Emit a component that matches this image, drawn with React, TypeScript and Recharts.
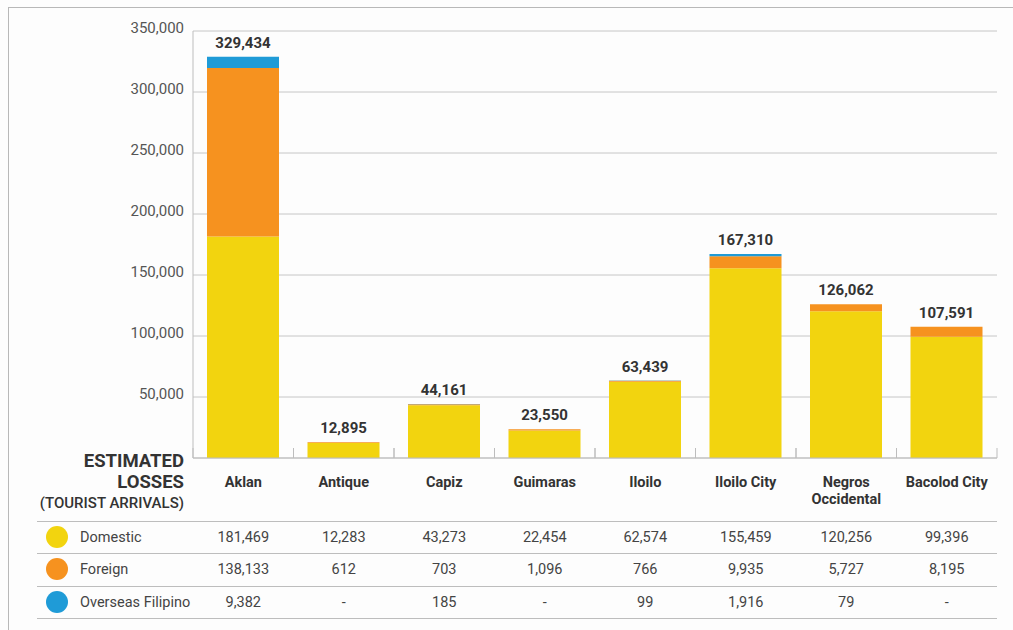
import { Bar, BarChart, CartesianGrid, LabelList, Text, XAxis, YAxis } from 'recharts'

const regions = ['Aklan', 'Antique', 'Capiz', 'Guimaras', 'Iloilo', 'Iloilo City', 'Negros Occidental', 'Bacolod City']
const domestic = [181469, 12283, 43273, 22454, 62574, 155459, 120256, 99396]
const foreign = [138133, 612, 703, 1096, 766, 9935, 5727, 8195]
// null = no overseas Filipino arrivals reported ("-")
const overseas: (number | null)[] = [9382, null, 185, null, 99, 1916, 79, null]
const totals = [329434, 12895, 44161, 23550, 63439, 167310, 126062, 107591]
const yTicks = [50000, 100000, 150000, 200000, 250000, 300000, 350000]

const series = [
  { key: 'domestic', name: 'Domestic', color: '#f2d40f', values: domestic },
  { key: 'foreign', name: 'Foreign', color: '#f6921f', values: foreign },
  { key: 'overseas', name: 'Overseas Filipino', color: '#1f9bd7', values: overseas },
]

const data = regions.map((region, i) => ({
  region,
  row: i,
  domestic: domestic[i],
  foreign: foreign[i],
  overseas: overseas[i] ?? 0,
}))

// index of the highest non-empty segment in each stack, which carries the total label
const topSeries = regions.map((_, i) => {
  let top = 0
  series.forEach((s, idx) => {
    if ((s.values[i] ?? 0) > 0) top = idx
  })
  return top
})

const W = 1013
const H = 630
const Y_AXIS_W = 193
const RIGHT = 16
const TOP = 31
const X_AXIS_H = 172
const BAND = (W - Y_AXIS_W - RIGHT) / regions.length
const ROW_Y = [79, 111, 144] // row centres below the x axis
const LINE_Y = [63, 95, 128, 160]

const FONT = 'Roboto, sans-serif'
const fmt = (v: number | null) => (v == null ? '-' : v.toLocaleString('en-US'))

const YTick = ({ x, y, payload }: any) => (
  <text x={x} y={y - 3.5} dy="0.35em" textAnchor="end" fontSize={15} fill="#555" fontFamily={FONT}>
    {fmt(payload.value)}
  </text>
)

const RegionTick = ({ x, y, payload, index }: any) => {
  const i = payload.index ?? index
  const half = BAND / 2
  return (
    <g>
      <line x1={x - half} x2={x - half} y1={y - 10} y2={y} stroke="#bdbdbd" />
      <line x1={x + half} x2={x + half} y1={y - 10} y2={y} stroke="#bdbdbd" />
      <Text
        x={x}
        y={y + 19}
        width={BAND - 6}
        textAnchor="middle"
        verticalAnchor="start"
        lineHeight={17}
        fontSize={14.5}
        fontWeight={700}
        fill="#333"
        fontFamily={FONT}
      >
        {payload.value}
      </Text>
      {series.map((s, r) => (
        <text
          key={s.key}
          x={x}
          y={y + ROW_Y[r]}
          dy="0.35em"
          textAnchor="middle"
          fontSize={14.5}
          fill="#444"
          fontFamily={FONT}
        >
          {fmt(s.values[i])}
        </text>
      ))}
    </g>
  )
}

// the label value is the row number, so the stack total can be looked up
const totalLabel = (seriesIdx: number) => (props: any) => {
  const { x, y, width, value } = props
  const row = Number(value)
  if (topSeries[row] !== seriesIdx) return null
  return (
    <text
      x={x + width / 2}
      y={y - 9}
      textAnchor="middle"
      fontSize={15}
      fontWeight={700}
      fill="#333"
      fontFamily={FONT}
    >
      {fmt(totals[row])}
    </text>
  )
}

export default function App() {
  const axisY = H - X_AXIS_H
  return (
    <div style={{ position: 'absolute', left: 0, top: 0, width: W, height: H, background: '#fdfdfd', fontFamily: FONT }}>
      <div
        style={{
          position: 'absolute',
          left: 8,
          top: 7,
          right: 0,
          bottom: 0,
          borderTop: '1.5px solid #b8b8b8',
          borderLeft: '1.5px solid #b8b8b8',
        }}
      />
      <BarChart width={W} height={H} data={data} margin={{ top: TOP, right: RIGHT, bottom: 0, left: 0 }}>
        <CartesianGrid vertical={false} stroke="#c6c6c6" />
        <XAxis
          dataKey="region"
          height={X_AXIS_H}
          axisLine={{ stroke: '#bdbdbd' }}
          tickLine={false}
          tickSize={0}
          tickMargin={0}
          interval={0}
          tick={<RegionTick />}
        />
        <YAxis
          width={Y_AXIS_W}
          domain={[0, 350000]}
          ticks={yTicks}
          axisLine={{ stroke: '#bdbdbd' }}
          tickLine={false}
          tickSize={0}
          tickMargin={9}
          tick={<YTick />}
        />
        {series.map((s, idx) => (
          <Bar key={s.key} dataKey={s.key} stackId="arrivals" fill={s.color} barSize={72} isAnimationActive={false}>
            <LabelList dataKey="row" content={totalLabel(idx)} />
          </Bar>
        ))}
      </BarChart>

      <div
        style={{
          position: 'absolute',
          left: 0,
          width: 184,
          top: axisY - 7,
          textAlign: 'right',
          color: '#333',
        }}
      >
        <div style={{ fontSize: 18.5, fontWeight: 700, lineHeight: '21px' }}>
          ESTIMATED
          <br />
          LOSSES
        </div>
        <div style={{ fontSize: 15, fontWeight: 500, lineHeight: '20px' }}>(TOURIST ARRIVALS)</div>
      </div>

      {LINE_Y.map((ly) => (
        <div
          key={ly}
          style={{
            position: 'absolute',
            left: 37,
            width: W - RIGHT - 37,
            top: axisY + ly,
            borderTop: '1px solid #bdbdbd',
          }}
        />
      ))}
      {series.map((s, r) => (
        <div
          key={s.key}
          style={{
            position: 'absolute',
            left: 46,
            top: axisY + ROW_Y[r] - 11,
            height: 22,
            display: 'flex',
            alignItems: 'center',
            fontSize: 14.5,
            color: '#444',
          }}
        >
          <span
            style={{
              width: 22,
              height: 22,
              borderRadius: '50%',
              background: s.color,
              display: 'inline-block',
              marginRight: 12,
            }}
          />
          {s.name}
        </div>
      ))}
    </div>
  )
}
